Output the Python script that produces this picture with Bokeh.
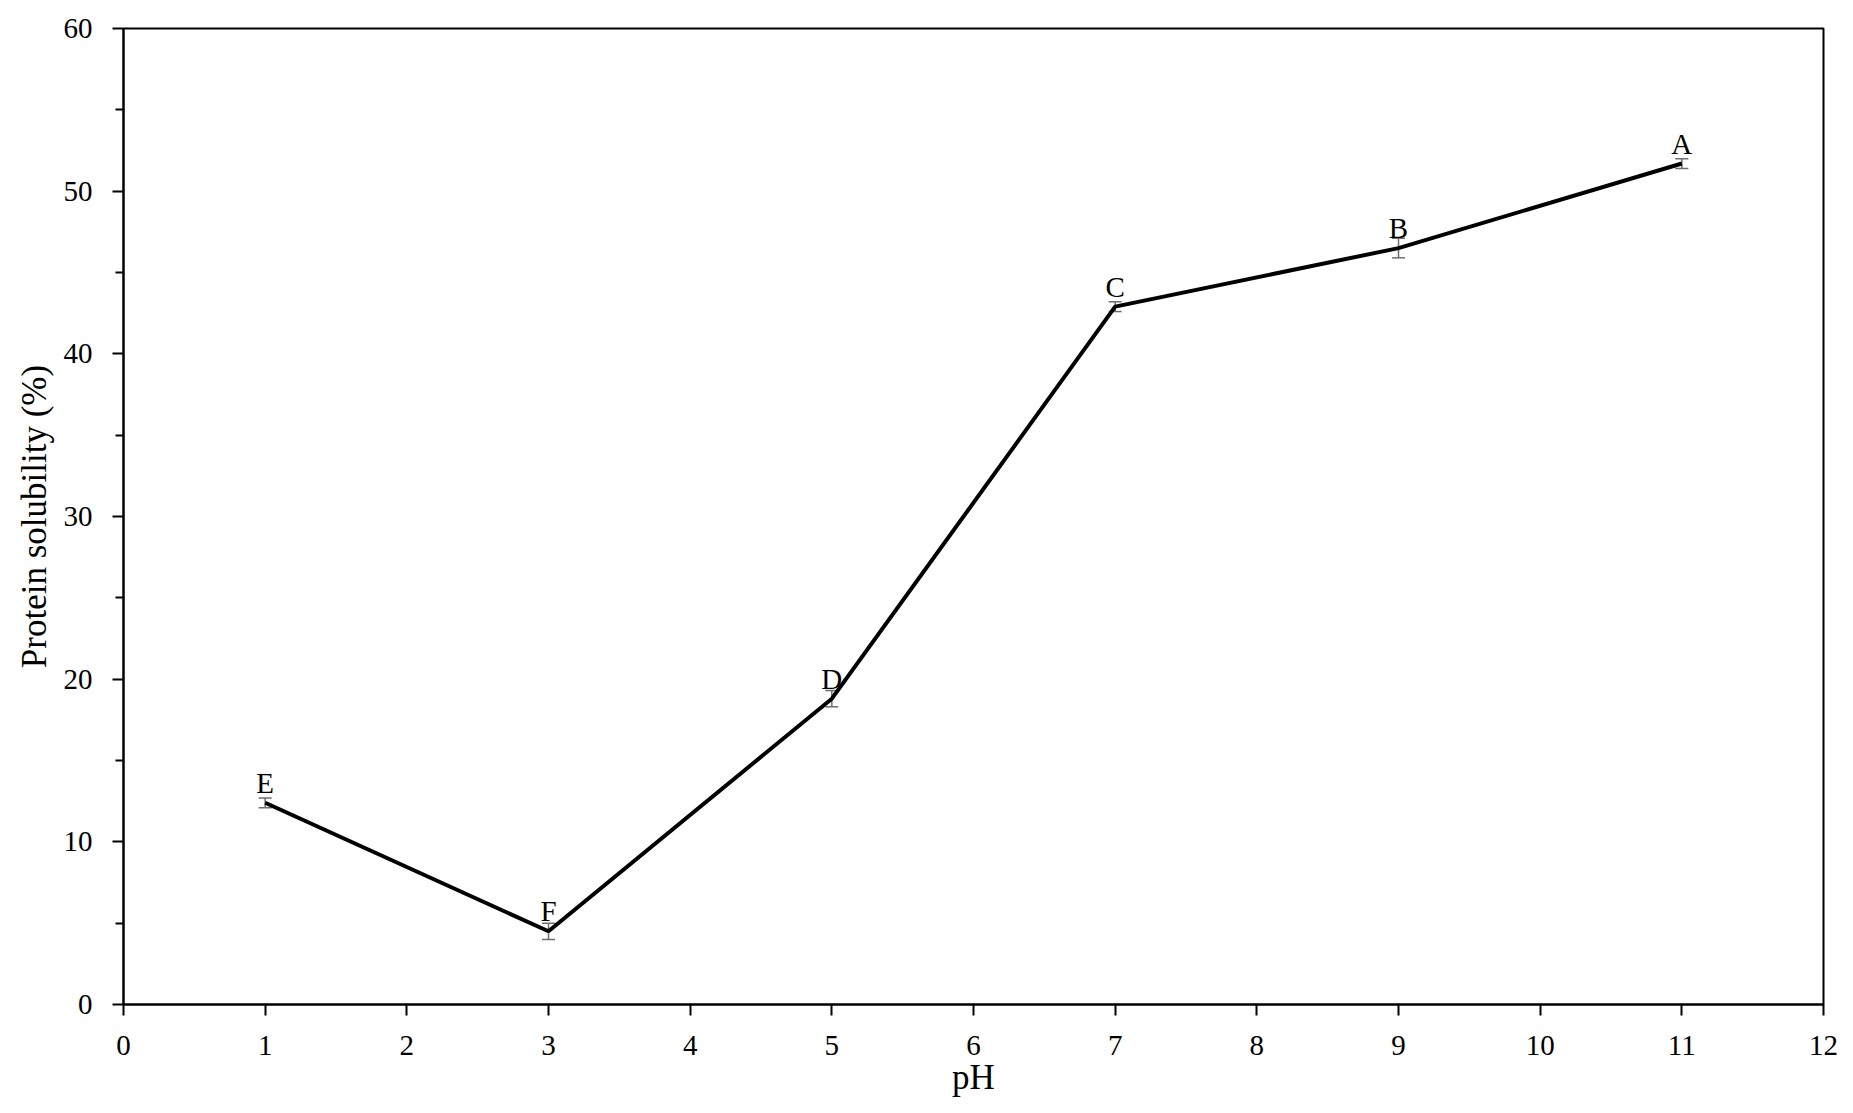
from bokeh.plotting import figure
from bokeh.models import ColumnDataSource, Whisker, TeeHead, FixedTicker, Range1d
from bokeh.core.properties import value
from bokeh.embed import file_html
from bokeh.resources import INLINE

ph = [1, 3, 5, 7, 9, 11]
solubility = [12.4, 4.5, 18.8, 42.9, 46.5, 51.7]
sd = [0.3, 0.5, 0.5, 0.3, 0.6, 0.3]
letters = ["E", "F", "D", "C", "B", "A"]
x_ticks = list(range(0, 13))
y_ticks = [0, 10, 20, 30, 40, 50, 60]
y_minor = [5, 15, 25, 35, 45, 55]

FONT = "Liberation Serif"

src = ColumnDataSource(dict(
    x=ph, y=solubility, lo=[v - s for v, s in zip(solubility, sd)],
    hi=[v + s for v, s in zip(solubility, sd)], lab=letters))

p = figure(frame_width=1700, frame_height=976, output_backend="svg",
           toolbar_location=None, x_range=Range1d(0, 12), y_range=Range1d(0, 60),
           min_border_left=123, min_border_top=28, min_border_right=22,
           min_border_bottom=95)
p.background_fill_color = "white"
p.border_fill_color = "white"
p.xgrid.visible = False
p.ygrid.visible = False
p.outline_line_color = "black"
p.outline_line_width = 2
p.outline_line_alpha = 1

p.line("x", "y", source=src, line_color="black", line_width=4)

w = Whisker(source=src, base="x", lower="lo", upper="hi", line_color="#6e6e6e",
            line_width=1.5,
            upper_head=TeeHead(size=13, line_color="#6e6e6e", line_width=1.5),
            lower_head=TeeHead(size=13, line_color="#6e6e6e", line_width=1.5))
p.add_layout(w)

p.text("x", "y", text="lab", source=src, text_font=value(FONT),
       text_font_size="29px", text_align="center", text_baseline="alphabetic",
       y_offset=-20, text_color="black")

p.xaxis.ticker = FixedTicker(ticks=x_ticks)
p.yaxis.ticker = FixedTicker(ticks=y_ticks, minor_ticks=y_minor)
p.xaxis.minor_tick_line_color = None
for ax in (p.xaxis[0], p.yaxis[0]):
    ax.axis_line_color = "black"
    ax.axis_line_width = 2
    ax.major_tick_line_color = "black"
    ax.major_tick_line_width = 2
    ax.major_tick_in = 0
    ax.major_tick_out = 11
    ax.major_label_text_font = FONT
    ax.major_label_text_font_size = "29px"
    ax.major_label_text_color = "black"
    ax.axis_label_text_font = FONT
    ax.axis_label_text_font_size = "35px"
    ax.axis_label_text_font_style = "normal"
    ax.axis_label_text_color = "black"
p.yaxis.minor_tick_line_color = "black"
p.yaxis.minor_tick_line_width = 2
p.yaxis.minor_tick_in = 0
p.yaxis.minor_tick_out = 8
p.xaxis.major_label_standoff = 20
p.yaxis.major_label_standoff = 20
p.xaxis.axis_label = "pH"
p.yaxis.axis_label = "Protein solubility (%)"
p.xaxis.axis_label_standoff = 0
p.yaxis.axis_label_standoff = 7

open("out.html", "w").write(file_html(p, INLINE))
